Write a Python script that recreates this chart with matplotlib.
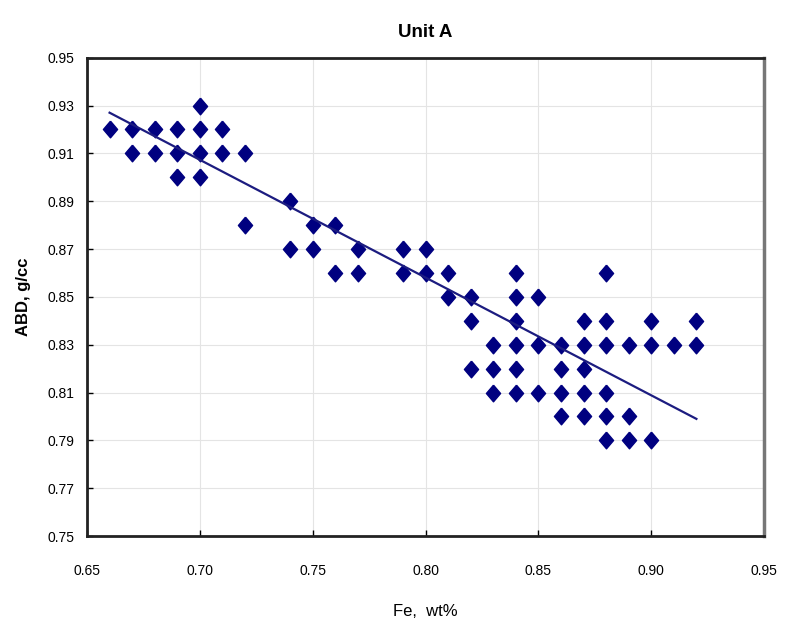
import numpy as np
import matplotlib
matplotlib.use("Agg")
import matplotlib.pyplot as plt

plt.rcParams['font.family'] = ['Liberation Sans Narrow', 'Liberation Sans', 'DejaVu Sans']

# Fe (wt%) and ABD (g/cc) pairs
fe = [0.66,
      0.67, 0.67,
      0.68, 0.68,
      0.69, 0.69, 0.69,
      0.70, 0.70, 0.70, 0.70,
      0.71, 0.71,
      0.72, 0.72,
      0.74, 0.74,
      0.75, 0.75,
      0.76, 0.76,
      0.77, 0.77,
      0.79, 0.79,
      0.80, 0.80,
      0.81, 0.81,
      0.82, 0.82, 0.82,
      0.83, 0.83, 0.83,
      0.84, 0.84, 0.84, 0.84, 0.84, 0.84,
      0.85, 0.85, 0.85,
      0.86, 0.86, 0.86, 0.86,
      0.87, 0.87, 0.87, 0.87, 0.87,
      0.88, 0.88, 0.88, 0.88, 0.88, 0.88,
      0.89, 0.89, 0.89,
      0.90, 0.90, 0.90,
      0.91,
      0.92, 0.92]
abd = [0.92,
       0.92, 0.91,
       0.92, 0.91,
       0.92, 0.91, 0.90,
       0.93, 0.92, 0.91, 0.90,
       0.92, 0.91,
       0.91, 0.88,
       0.89, 0.87,
       0.88, 0.87,
       0.88, 0.86,
       0.87, 0.86,
       0.87, 0.86,
       0.87, 0.86,
       0.86, 0.85,
       0.85, 0.84, 0.82,
       0.83, 0.82, 0.81,
       0.86, 0.85, 0.84, 0.83, 0.82, 0.81,
       0.85, 0.83, 0.81,
       0.83, 0.82, 0.81, 0.80,
       0.84, 0.83, 0.82, 0.81, 0.80,
       0.86, 0.84, 0.83, 0.81, 0.80, 0.79,
       0.83, 0.80, 0.79,
       0.84, 0.83, 0.79,
       0.83,
       0.84, 0.83]

# trend line ends
trend_fe = [0.66, 0.92]
trend_abd = [0.927, 0.799]

x_ticks = [0.65, 0.70, 0.75, 0.80, 0.85, 0.90, 0.95]
y_ticks = [0.75, 0.77, 0.79, 0.81, 0.83, 0.85, 0.87, 0.89, 0.91, 0.93, 0.95]

fig = plt.figure(figsize=(7.91, 6.27), dpi=100)
ax = fig.add_axes([0.110, 0.145, 0.856, 0.763])

diamond = [(0, 1), (0.85, 0), (0, -1), (-0.85, 0), (0, 1)]
ax.plot(fe, abd, linestyle='none', marker=diamond, markersize=12,
        color='#000080', zorder=3)
ax.plot(trend_fe, trend_abd, color='#1c1c80', linewidth=1.6, zorder=4)

ax.set_xlim(0.65, 0.95)
ax.set_ylim(0.75, 0.95)
ax.set_xticks(x_ticks)
ax.set_yticks(y_ticks)
ax.set_xticklabels([f"{v:.2f}" for v in x_ticks])
ax.set_yticklabels([f"{v:.2f}" for v in y_ticks])
ax.tick_params(direction='in', length=4, width=1, labelsize=10)
ax.tick_params(axis='x', pad=20)
ax.tick_params(axis='y', pad=9)
ax.grid(True, color='#e4e4e4', linewidth=0.8)
ax.set_axisbelow(True)

for side in ['left', 'bottom', 'top']:
    ax.spines[side].set_linewidth(2)
    ax.spines[side].set_color('#222222')
ax.spines['right'].set_linewidth(2.5)
ax.spines['right'].set_color('#777777')

ax.set_title("Unit A", fontsize=13.5, fontweight='bold', pad=15)
ax.set_xlabel("Fe,  wt%", fontsize=12, labelpad=19)
ax.set_ylabel("ABD, g/cc", fontsize=12, fontweight='bold', labelpad=12)

fig.savefig("out.png", dpi=100)
